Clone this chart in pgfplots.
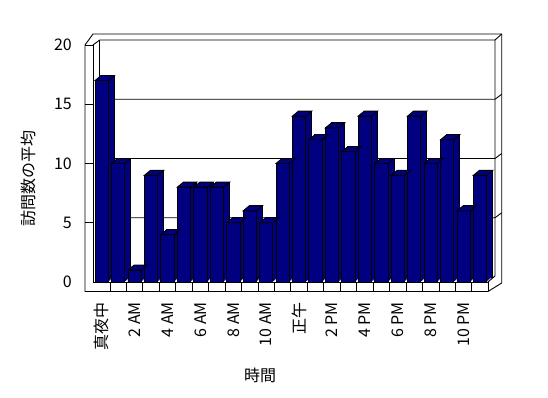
\documentclass[border=0pt]{standalone}
\usepackage{fontspec}
\setmainfont{Noto Sans CJK JP}
\usepackage{pgfplots}
\usepackage{pgfplotstable}
\pgfplotsset{compat=1.18}
\definecolor{barnavy}{RGB}{0,0,128}
\pgfdeclareplotmark{topface}{%
  \pgfpathmoveto{\pgfqpoint{-6.65pt}{0pt}}%
  \pgfpathlineto{\pgfqpoint{6.65pt}{0pt}}%
  \pgfpathlineto{\pgfqpoint{12.65pt}{5pt}}%
  \pgfpathlineto{\pgfqpoint{-0.65pt}{5pt}}%
  \pgfpathclose
  \pgfusepathqfillstroke}
\pgfplotstableread{
x y
0 17
1 10
2 1
3 9
4 4
5 8
6 8
7 8
8 5
9 6
10 5
11 10
12 14
13 12
14 13
15 11
16 14
17 10
18 9
19 14
20 10
21 12
22 6
23 9
}\visits
\begin{document}
\fontsize{16}{19}\selectfont
\begin{tikzpicture}[x=1pt,y=1pt]
\useasboundingbox (0,0) rectangle (548,398);
\begin{scope}[line width=0.9pt, line join=miter]
\draw (85,106.5) -- (85,353) -- (93,364) -- (501.7,364) -- (501.7,115) -- (488,106.5) -- cycle;
\draw (85,353) -- (93,353) -- (93,116);
\draw (93,353) -- (99.7,358) -- (495,358) -- (495,122);
\draw (99.7,358) -- (99.7,121);
\draw (495,358) -- (501.7,364);
\draw (93,116) -- (488,116) -- (488,106.5);
\draw (488,116) -- (495,122);
\foreach \v in {5,10,15} {
  \pgfmathsetmacro\fy{116+11.85*\v}
  \draw (85,\fy) -- (93,\fy);
  \draw (99.7,\fy+5) -- (495,\fy+5) -- (501.7,\fy+10);
}
\end{scope}
\begin{axis}[
  at={(93.5pt,116pt)}, anchor=south west,
  scale only axis, width=394.8pt, height=237pt,
  xmin=-0.5, xmax=23.5, ymin=0, ymax=20,
  clip=false,
  axis line style={draw=none},
  xtick={0,2,...,22},
  xticklabels={真夜中,2 AM,4 AM,6 AM,8 AM,10 AM,正午,2 PM,4 PM,6 PM,8 PM,10 PM},
  minor xtick={0.5,1.5,...,22.5},
  major tick length=0pt, minor tick length=9.5pt,
  tick align=outside, xtick pos=bottom, ytick pos=left,
  minor tick style={black, line width=0.9pt},
  ytick={0,5,10,15,20},
  xticklabel style={rotate=90, anchor=east, inner sep=0pt},
  xticklabel shift=20pt,
  yticklabel style={anchor=east, inner sep=0pt},
  yticklabel shift=21.5pt,
  /pgf/number format/assume math mode=true,
  tick label style={font=\fontsize{16}{19}\selectfont},
]
\addplot[ybar, bar width=13.3pt, bar shift=0pt, fill=barnavy, draw=black, line width=0.9pt, xshift=6pt, yshift=5pt] table {\visits};
\addplot[ybar, bar width=13.3pt, bar shift=0pt, fill=barnavy, draw=none, xshift=5pt, yshift=4.17pt] table {\visits};
\addplot[ybar, bar width=13.3pt, bar shift=0pt, fill=barnavy, draw=none, xshift=4pt, yshift=3.33pt] table {\visits};
\addplot[ybar, bar width=13.3pt, bar shift=0pt, fill=barnavy, draw=none, xshift=3pt, yshift=2.5pt] table {\visits};
\addplot[ybar, bar width=13.3pt, bar shift=0pt, fill=barnavy, draw=none, xshift=2pt, yshift=1.67pt] table {\visits};
\addplot[ybar, bar width=13.3pt, bar shift=0pt, fill=barnavy, draw=none, xshift=1pt, yshift=0.83pt] table {\visits};
\addplot[ybar, bar width=13.3pt, bar shift=0pt, fill=barnavy, draw=black, line width=0.9pt] table {\visits};
\addplot[only marks, mark=topface, mark options={fill=barnavy, draw=black, line width=0.9pt, line join=miter}] table {\visits};
\end{axis}
\node[rotate=90, font=\fontsize{16}{19}\selectfont] at (28,219) {訪問数の平均};
\node[font=\fontsize{16}{19}\selectfont] at (260,22.5) {時間};
\end{tikzpicture}
\end{document}
